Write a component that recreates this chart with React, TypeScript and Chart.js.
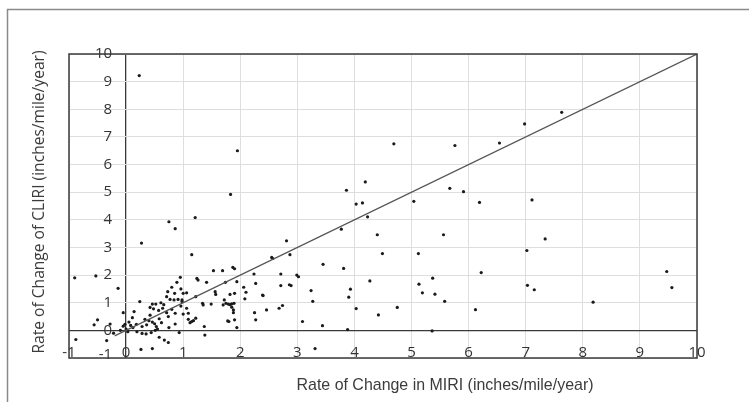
import React, { useEffect, useRef } from "react";
import { Chart, registerables } from "chart.js";

Chart.register(...registerables);

// Rate of change in MIRI (x) and CLIRI (y), inches/mile/year
const miri: number[] = [
  0.23, 1.95, 1.83, 1.21, 0.75, 0.86, 0.27, 1.15,
  -0.90, -0.53, -0.14,
  1.53, 1.69, 1.87, 1.90, 2.24, 2.27, 1.94, 1.74,
  1.24, 1.26, 1.41, 0.95, 0.89, 0.80, 0.96, 1.00, 1.06, 1.22, 0.73, 0.85, 0.71, 0.77, 0.84, 0.91, 0.98, 0.98,
  1.56, 1.57, 1.82, 1.90, 2.06, 2.10, 2.08, 2.39, 2.46, 2.25, 2.27, 1.94, 1.90, 1.80, 1.78, 1.88,
  1.72, 1.75, 1.79, 1.82, 1.85, 1.89, 1.85, 1.88, 1.70, 1.49, 1.34, 1.35, 1.22, 1.18, 1.15, 1.37, 1.38,
  0.93, 0.74, 1.06, 1.09, 1.00, 0.96, 0.86, 0.86, 0.74, 0.75, 0.80, 0.71, 1.09, 1.12,
  -0.05, -0.50, -0.56, -0.28, -0.34, -0.88, 0.26, 0.46, 0.24, 0.14, 0.11,
  0.05, -0.05, 0.00, -0.10, 0.03, 0.08, 0.12, -0.02, 0.18, -0.22,
  0.19, 0.28, 0.35, 0.44, 0.51, 0.28,
  0.42, 0.42, 0.46, 0.52, 0.61, 0.66, 0.48, 0.57, 0.64,
  0.46, 0.50, 0.53, 0.40, 0.33, 0.58, 0.62, 0.58, 0.67, 0.55, 0.36,
  4.69, 4.19, 3.86, 4.03, 4.14, 4.23, 3.77, 4.40, 4.49, 2.81, 2.87, 2.55, 2.57, 5.04, 5.12,
  3.45, 3.81, 2.99, 3.02, 2.71, 2.40, 2.71, 2.86, 2.89, 3.24, 3.27, 3.93, 3.90, 4.27, 4.03,
  4.42, 4.75, 2.68, 2.74, 3.09, 3.44, 3.88, 3.31, 5.13, 5.19, 5.37, 5.41, 5.36,
  7.63, 6.98, 6.54, 5.76, 5.67, 5.91, 6.19, 7.11, 5.56, 7.34, 7.02, 6.22, 9.47, 9.56,
  5.58, 7.03, 7.15, 6.12, 8.18,
];

const cliri: number[] = [
  9.22, 6.50, 4.92, 4.08, 3.93, 3.68, 3.16, 2.74,
  1.90, 1.97, 1.52,
  2.16, 2.16, 2.28, 2.23, 2.04, 1.70, 1.76, 1.74,
  1.88, 1.82, 1.74, 1.92, 1.74, 1.56, 1.50, 1.34, 1.36, 1.22, 1.40, 1.34, 1.22, 1.12, 1.10, 1.12, 1.10, 1.04,
  1.40, 1.30, 1.30, 1.34, 1.56, 1.38, 1.14, 1.28, 0.74, 0.64, 0.38, 0.10, 0.38, 0.32, 0.34, 0.64,
  1.10, 0.98, 0.95, 0.93, 0.96, 0.98, 0.84, 0.74, 0.92, 0.95, 0.98, 0.92, 0.44, 0.35, 0.32, 0.14, -0.17,
  -0.08, -0.44, 0.80, 0.62, 0.59, 0.88, 0.62, 0.23, 0.50, 0.10, 0.76, 0.64, 0.40, 0.28,
  0.64, 0.38, 0.20, 0.23, -0.37, -0.33, -0.69, -0.66, 1.04, 0.68, 0.46,
  0.30, 0.15, 0.05, 0.00, -0.05, 0.18, 0.10, 0.22, 0.22, -0.10,
  -0.05, -0.11, -0.13, -0.08, 0.00, 0.14,
  0.83, 0.55, 0.95, 0.95, 1.00, 0.93, 0.78, 0.72, 0.80,
  0.30, 0.24, 0.14, 0.35, 0.40, 0.42, 0.28, -0.25, -0.35, 0.05, 0.20,
  6.75, 5.37, 5.07, 4.57, 4.61, 4.11, 3.66, 3.46, 2.78, 3.24, 2.74, 2.64, 2.60, 4.67, 2.78,
  2.39, 2.24, 2.00, 1.94, 2.04, 1.26, 1.62, 1.65, 1.62, 1.44, 1.05, 1.49, 1.20, 1.79, 0.79,
  0.56, 0.83, 0.80, 0.90, 0.32, 0.17, 0.03, -0.66, 1.67, 1.36, 1.89, 1.31, -0.02,
  7.89, 7.47, 6.78, 6.69, 5.14, 5.02, 4.63, 4.72, 3.46, 3.31, 2.89, 2.09, 2.13, 1.55,
  1.05, 1.63, 1.47, 0.75, 1.02,
];

// Line of equality
const equalityX: number[] = [-0.2, 10];
const equalityY: number[] = [-0.2, 10];

const xTickLabels: string[] = ["-1", "0", "1", "2", "3", "4", "5", "6", "7", "8", "9", "10"];
const yTickLabels: string[] = ["-1", "0", "1", "2", "3", "4", "5", "6", "7", "8", "9", "10"];

const xTitle = "Rate of Change in MIRI (inches/mile/year)";
const yTitle = "Rate of Change of CLIRI (inches/mile/year)";

export default function App() {
  const ref = useRef<HTMLCanvasElement | null>(null);

  useEffect(() => {
    if (!ref.current) return;
    const decor = {
      id: "decor",
      beforeDraw(chart: any) {
        const ctx = chart.ctx;
        ctx.save();
        ctx.fillStyle = "#ffffff";
        ctx.fillRect(0, 0, chart.width, chart.height);
        ctx.strokeStyle = "#8a8a8a";
        ctx.lineWidth = 1.5;
        ctx.beginPath();
        ctx.moveTo(7.5, chart.height);
        ctx.lineTo(7.5, 9.5);
        ctx.lineTo(chart.width, 9.5);
        ctx.stroke();
        ctx.restore();
      },
      afterDraw(chart: any) {
        const ctx = chart.ctx;
        const xs = chart.scales.x;
        const ys = chart.scales.y;
        const a = chart.chartArea;
        ctx.save();
        ctx.strokeStyle = "#3a3a3a";
        ctx.lineWidth = 1.5;
        ctx.strokeRect(a.left, a.top, a.right - a.left, a.bottom - a.top);
        ctx.fillStyle = "#333333";
        ctx.font = '15px "Open Sans"';
        ctx.textAlign = "center";
        ctx.textBaseline = "middle";
        const y0 = ys.getPixelForValue(0);
        const x0 = xs.getPixelForValue(0);
        xTickLabels.forEach((t) => {
          ctx.fillText(t, xs.getPixelForValue(Number(t)), y0 + 22.5);
        });
        ctx.textAlign = "right";
        yTickLabels.forEach((t) => {
          const v = Number(t);
          ctx.fillText(t, x0 - 14, ys.getPixelForValue(v) - (v === -1 ? 3 : 0));
        });
        ctx.fillStyle = "#3c3c3c";
        ctx.font = '17px "Liberation Sans"';
        ctx.textAlign = "center";
        ctx.fillText(xTitle, 445, 385, 297);
        ctx.translate(39, 202);
        ctx.rotate(-Math.PI / 2);
        ctx.font = '16px "Open Sans"';
        ctx.fillText(yTitle, 0, 0, 303);
        ctx.restore();
      },
    };

    const chart = new Chart(ref.current, {
      type: "scatter",
      data: {
        datasets: [
          {
            type: "line",
            data: equalityX.map((x, i) => ({ x, y: equalityY[i] })),
            borderColor: "#555555",
            borderWidth: 1.2,
            pointRadius: 0,
            fill: false,
          } as any,
          {
            data: miri.map((x, i) => ({ x, y: cliri[i] })),
            pointRadius: 1.6,
            pointBackgroundColor: "#1a1a1a",
            pointBorderWidth: 0,
            backgroundColor: "#1a1a1a",
          },
        ],
      },
      options: {
        animation: false,
        responsive: false,
        devicePixelRatio: 1,
        layout: { padding: { left: 69, top: 54, right: 52, bottom: 44 } },
        plugins: { legend: { display: false }, tooltip: { enabled: false } },
        scales: {
          x: {
            type: "linear",
            min: -1,
            max: 10,
            ticks: { display: false, stepSize: 1 },
            border: { display: false },
            grid: {
              drawTicks: false,
              color: (c: any) => (c.tick && c.tick.value === 0 ? "#3a3a3a" : "#dedede"),
              lineWidth: (c: any) => (c.tick && c.tick.value === 0 ? 1.3 : 1),
            },
            afterFit: (s: any) => {
              s.height = 0;
            },
          },
          y: {
            type: "linear",
            min: -1,
            max: 10,
            ticks: { display: false, stepSize: 1 },
            border: { display: false },
            grid: {
              drawTicks: false,
              color: (c: any) => (c.tick && c.tick.value === 0 ? "#3a3a3a" : "#dedede"),
              lineWidth: (c: any) => (c.tick && c.tick.value === 0 ? 1.3 : 1),
            },
            afterFit: (s: any) => {
              s.width = 0;
            },
          },
        },
      },
      plugins: [decor],
    });
    return () => chart.destroy();
  }, []);

  return (
    <div style={{ position: "absolute", left: 0, top: 0, width: 749, height: 402 }}>
      <canvas ref={ref} width={749} height={402} style={{ display: "block" }} />
    </div>
  );
}
